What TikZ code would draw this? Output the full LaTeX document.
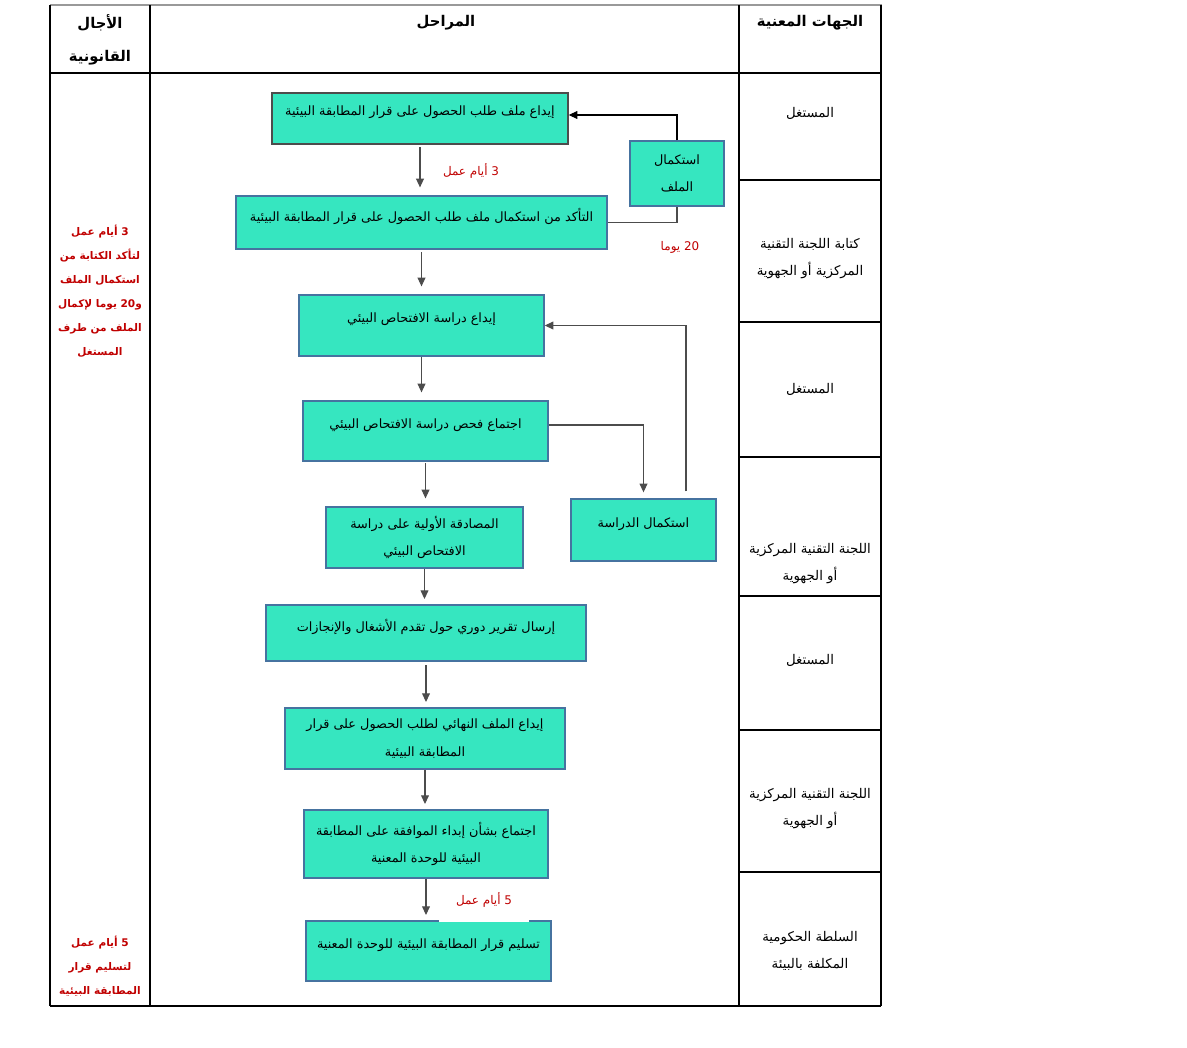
\documentclass[tikz,border=0pt]{standalone}
\usepackage{fontspec}
\newfontfamily\arabicfont[Script=Arabic]{DejaVu Sans}
\TeXXeTstate=1
\usetikzlibrary{arrows.meta}
\definecolor{stagefill}{RGB}{54,230,192}
\definecolor{stageline}{RGB}{70,115,160}
\definecolor{delayred}{RGB}{192,0,0}
\newcommand{\artxt}[1]{\beginR#1\endR}
\newcommand{\ltxt}[1]{\beginL#1\endL{}}
\tikzset{
    stage/.style={draw=stageline, line width=0.8pt, fill=stagefill, inner sep=0pt, align=center,
        font=\arabicfont\fontsize{7.3}{15.5}\selectfont},
    topline/.style={text depth=8.5pt},
    actor/.style={align=center, font=\arabicfont\fontsize{7.6}{15.4}\selectfont},
    delay/.style={text=delayred, align=center, font=\arabicfont\bfseries\fontsize{6}{13.6}\selectfont},
    note/.style={text=delayred, font=\arabicfont\fontsize{6.8}{13.6}\selectfont},
    head/.style={align=center, font=\arabicfont\bfseries\fontsize{8.4}{18.8}\selectfont},
    flow/.style={draw=black!70, line width=0.6pt, -{Triangle[length=5pt,width=4.5pt]}},
}
\begin{document}
\begin{tikzpicture}[x=0.02cm, y=-0.02cm]
    \useasboundingbox (0,0) rectangle (1187,1048);
    % table
    \draw [line width=1.2pt, color=black!40] (50,5)-- (882,5);
    \draw [line width=0.7pt] (50,5)-- (50,1006);
    \draw [line width=0.7pt] (150,5)-- (150,1006);
    \draw [line width=0.7pt] (739,5)-- (739,1006);
    \draw [line width=0.7pt] (881,5)-- (881,1006);
    \draw [line width=0.7pt] (50,73)-- (881,73);
    \draw [line width=0.7pt] (50,1006)-- (881,1006);
    \foreach \y in {180,322,457,596,730,872}
        \draw [line width=0.7pt] (739,\y)-- (881,\y);
    % header
    \node[head] (hdeadline) at (100,39.5) {\artxt{الأجال}\\\artxt{القانونية}};
    \node[head] (hstages) at (446,23) {\artxt{المراحل}};
    \node[head] (hparties) at (810,23) {\artxt{الجهات المعنية}};
    % stages
    \node[stage, topline, draw=black!70, minimum width=5.92cm, minimum height=1.02cm] (b1) at (420,118.5)
        {\artxt{إيداع ملف طلب الحصول على قرار المطابقة البيئية}};
    \node[stage, minimum width=1.88cm, minimum height=1.30cm] (cf) at (677,173.5)
        {\artxt{استكمال}\\\artxt{الملف}};
    \node[stage, topline, minimum width=7.42cm, minimum height=1.06cm] (b2) at (421.5,222.5)
        {\artxt{التأكد من استكمال ملف طلب الحصول على قرار المطابقة البيئية}};
    \node[stage, topline, minimum width=4.90cm, minimum height=1.22cm] (b3) at (421.5,325.5)
        {\artxt{إيداع دراسة الافتحاص البيئي}};
    \node[stage, topline, minimum width=4.90cm, minimum height=1.20cm] (b4) at (425.5,431)
        {\artxt{اجتماع فحص دراسة الافتحاص البيئي}};
    \node[stage, topline, minimum width=2.90cm, minimum height=1.24cm] (cs) at (643.5,530)
        {\artxt{استكمال الدراسة}};
    \node[stage, minimum width=3.94cm, minimum height=1.22cm] (b5) at (424.5,537.5)
        {\artxt{المصادقة الأولية على دراسة}\\\artxt{الافتحاص البيئي}};
    \node[stage, topline, minimum width=6.40cm, minimum height=1.12cm] (b6) at (426,633)
        {\artxt{إرسال تقرير دوري حول تقدم الأشغال والإنجازات}};
    \node[stage, minimum width=5.60cm, minimum height=1.22cm] (b7) at (425,738.5)
        {\artxt{إيداع الملف النهائي لطلب الحصول على قرار}\\\artxt{المطابقة البيئية}};
    \node[stage, minimum width=4.88cm, minimum height=1.36cm] (b8) at (426,844)
        {\artxt{اجتماع بشأن إبداء الموافقة على المطابقة}\\\artxt{البيئية للوحدة المعنية}};
    \node[stage, topline, minimum width=4.90cm, minimum height=1.20cm] (b9) at (428.5,951)
        {\artxt{تسليم قرار المطابقة البيئية للوحدة المعنية}};
    % connectors
    \draw[flow, shorten <=1.5pt, shorten >=4.5pt] (b1.south) -- (b1.south |- b2.north);
    \draw[flow, shorten <=1.5pt, shorten >=4.5pt] (b2.south) -- (b2.south |- b3.north);
    \draw[flow, shorten >=4.5pt] (b3.south) -- (b3.south |- b4.north);
    \draw[flow, shorten <=1pt, shorten >=4.5pt] (b4.south) -- (b4.south |- b5.north);
    \draw[flow, shorten >=3pt] (b5.south) -- (b5.south |- b6.north);
    \draw[flow, shorten <=2pt, shorten >=3pt] (b6.south) -- (b6.south |- b7.north);
    \draw[flow, shorten >=3pt] (b7.south) -- (b7.south |- b8.north);
    \draw[flow, shorten >=3pt] (b8.south) -- (b8.south |- b9.north);
    \draw[flow, draw=black] (cf.north) |- ([yshift=0.07cm]b1.east);
    \draw[line width=0.6pt, black!70] (b2.east) -| (cf.south);
    \draw[flow, shorten >=3.4pt] ([yshift=0.12cm]b4.east) -| (cs.north);
    \draw[flow, shorten <=4pt] ([xshift=0.85cm]cs.north) |- (b3.east);
    % delays
    \node[note] (d1) at (471,171) {\artxt{\ltxt{3} أيام عمل}};
    \node[note] (d2) at (680,247) {\artxt{\ltxt{20} يوما}};
    \node[note, fill=white, inner sep=0pt, anchor=base, minimum width=1.82cm, text depth=10.5pt]
        (d3) at (484,904) {\artxt{\ltxt{5} أيام عمل}};
    \node[delay] (lg1) at (100,291) {\artxt{\ltxt{3} أيام عمل}\\\artxt{لتأكد الكتابة من}\\\artxt{استكمال الملف}\\
        \artxt{و\ltxt{20} يوما لإكمال}\\\artxt{الملف من طرف}\\\artxt{المستغل}};
    \node[delay] (lg2) at (100,966) {\artxt{\ltxt{5} أيام عمل}\\\artxt{لتسليم قرار}\\\artxt{المطابقة البيئية}};
    % parties
    \node[actor] (p1) at (810,113) {\artxt{المستغل}};
    \node[actor] (p2) at (810,258.5) {\artxt{كتابة اللجنة التقنية}\\\artxt{المركزية أو الجهوية}};
    \node[actor] (p3) at (810,389) {\artxt{المستغل}};
    \node[actor] (p4) at (810,563.5) {\artxt{اللجنة التقنية المركزية}\\\artxt{أو الجهوية}};
    \node[actor] (p5) at (810,660) {\artxt{المستغل}};
    \node[actor] (p6) at (810,808.5) {\artxt{اللجنة التقنية المركزية}\\\artxt{أو الجهوية}};
    \node[actor] (p7) at (810,951) {\artxt{السلطة الحكومية}\\\artxt{المكلفة بالبيئة}};
\end{tikzpicture}
\end{document}
